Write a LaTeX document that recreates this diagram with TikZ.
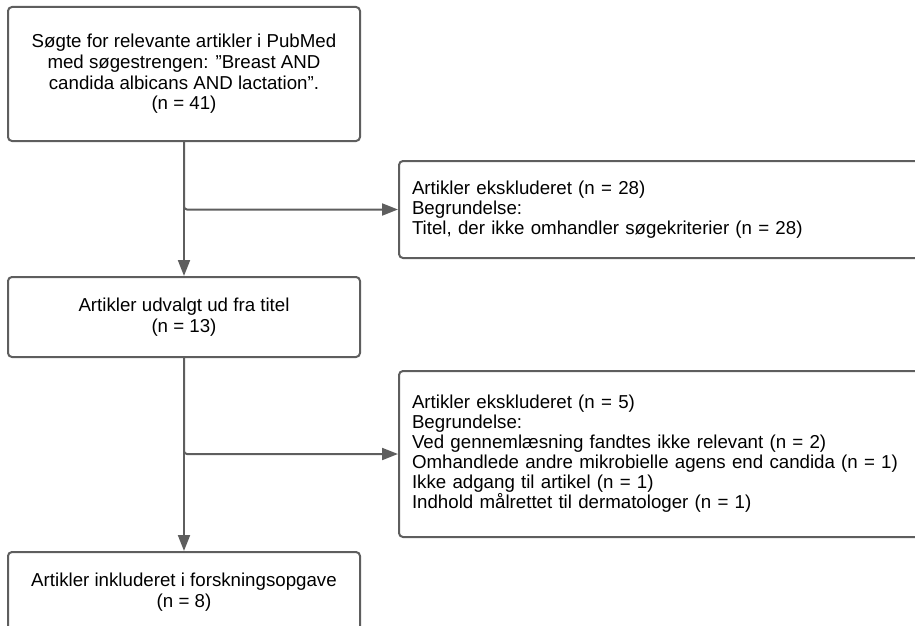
\documentclass[tikz,border=0pt]{standalone}
\usepackage{fontspec}
\setmainfont{Liberation Sans}
\usepackage{xcolor}
\usepackage{tikz}
\usetikzlibrary{positioning,arrows.meta}

\definecolor{linegray}{HTML}{5E5E5E}

\begin{document}
\begin{tikzpicture}[
  x=1pt, y=-1pt,
  box/.style={rectangle, draw=linegray, line width=2pt, rounded corners=4pt,
              minimum width=352pt, align=center, text=black,
              font=\fontsize{18.7}{20.6}\selectfont},
  exclbox/.style={rectangle, draw=linegray, line width=2pt, rounded corners=4pt,
              anchor=west, minimum width=540pt, text width=514pt, inner xsep=13pt,
              align=left, text=black, font=\fontsize{18.7}{20}\selectfont},
  arrow/.style={-{Triangle[length=16pt,width=12pt]}, draw=linegray, line width=2pt}
]
\useasboundingbox (0,0) rectangle (915,626);

% Main flow
\node[box, minimum height=134pt] (search) at (184,74)
  {Søgte for relevante artikler i PubMed\\med søgestrengen: ”Breast AND\\candida albicans AND lactation”.\\(n = 41)};
\node[box, minimum height=80pt] (title) at (184,317) {Artikler udvalgt ud fra titel\\(n = 13)};
\node[box, minimum height=80pt] (incl) at (184,592) {Artikler inkluderet i forskningsopgave\\(n = 8)};

% Exclusions
\node[exclbox, minimum height=97pt] (excl1) at (398,209.5)
  {Artikler ekskluderet (n = 28)\\Begrundelse:\\Titel, der ikke omhandler søgekriterier (n = 28)};
\node[exclbox, minimum height=166pt] (excl2) at (398,454)
  {Artikler ekskluderet (n = 5)\\Begrundelse:\\Ved gennemlæsning fandtes ikke relevant (n = 2)\\Omhandlede andre mikrobielle agens end candida (n = 1)\\Ikke adgang til artikel (n = 1)\\Indhold målrettet til dermatologer (n = 1)};

% Arrows
\draw[arrow] (search) -- (title);
\draw[arrow, rounded corners=3pt] (search.south) |- (excl1.west);
\draw[arrow] (title) -- (incl);
\draw[arrow, rounded corners=3pt] (title.south) |- (excl2.west);

\end{tikzpicture}
\end{document}
